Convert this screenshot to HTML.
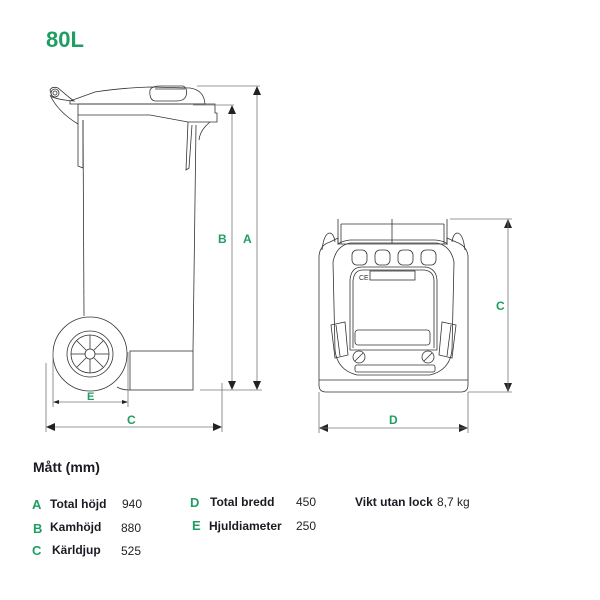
<!DOCTYPE html>
<html><head><meta charset="utf-8"><style>
body{margin:0;background:#fff;width:600px;height:600px;overflow:hidden;position:relative;font-family:"Liberation Sans",sans-serif}
.t{position:absolute;white-space:nowrap}
.g{color:#1f9e62;font-weight:bold}
.b{color:#1a1a22;font-weight:bold;font-size:12px}
.n{color:#222;font-size:12px}
</style></head><body>
<svg width="600" height="600" style="position:absolute;left:0;top:0" fill="none" stroke="#333" stroke-width="0.8">
<!-- LEFT BIN -->
<circle cx="55" cy="93" r="4"/><circle cx="55" cy="93" r="2"/>
<path d="M50 90 Q52 86 58 88 L70 98 L74 101 Q60 100 52 97 Z"/>
<path d="M50 95 Q58 112 78 124"/>
<path d="M70 101 L95 92 Q120 88 150 87 L190 88 Q204 90 205 104 L70 104 Z"/>
<path d="M150 90 Q152 86 160 86 L183 86 Q188 88 186 96 Q184 101 176 101 L155 101 Q149 100 150 90 Z"/>
<line x1="155" y1="89" x2="185" y2="89"/>
<path d="M78 104 L215 104 L215 113 L217 113 L217 122 L210 122 Q200 130 199 140 M78 104 L78 115 L150 115 L188 122 L210 122"/>
<path d="M78 115 L78 166 L83 168 L83 120"/>
<path d="M188 122 L186 170 L189 168 L192 125"/>
<path d="M83 120 L84 316"/>
<path d="M196 125 L193 351"/>
<rect x="130" y="351" width="63" height="39"/>
<path d="M117 387 Q122 390 130 390"/>
<circle cx="90" cy="354" r="37" fill="#fff"/>
<circle cx="90" cy="354" r="23"/><circle cx="90" cy="354" r="19"/>
<circle cx="90" cy="354" r="5"/>
<g>
<line x1="90" y1="349" x2="90" y2="335"/><line x1="90" y1="359" x2="90" y2="373"/>
<line x1="85" y1="354" x2="71" y2="354"/><line x1="95" y1="354" x2="109" y2="354"/>
<line x1="86" y1="350" x2="77" y2="341"/><line x1="94" y1="350" x2="103" y2="341"/>
<line x1="86" y1="358" x2="77" y2="367"/><line x1="94" y1="358" x2="103" y2="367"/>
</g>
<!-- dims left -->
<g stroke="#777">
<line x1="197" y1="86" x2="260" y2="86"/><line x1="200" y1="390" x2="262" y2="390"/>
<line x1="193" y1="105" x2="234" y2="105"/>
<line x1="257" y1="88" x2="257" y2="388"/><line x1="232" y1="107" x2="232" y2="388"/>
<line x1="46" y1="363" x2="46" y2="432"/><line x1="222" y1="383" x2="222" y2="432"/>
<line x1="48" y1="427" x2="220" y2="427"/>
<line x1="53" y1="352" x2="53" y2="407"/><line x1="128" y1="352" x2="128" y2="407"/>
<line x1="55" y1="402" x2="126" y2="402"/>
</g>
<g fill="#222" stroke="none">
<polygon points="257,86 253,95 261,95"/><polygon points="257,390 253,381 261,381"/>
<polygon points="232,105 228,114 236,114"/><polygon points="232,390 228,381 236,381"/>
<polygon points="46,427 55,423 55,431"/><polygon points="222,427 213,423 213,431"/>
<polygon points="53,402 59,400 59,404"/><polygon points="128,402 122,400 122,404"/>
<polygon points="319,428 328,424 328,432"/><polygon points="468,428 459,424 459,432"/>
<polygon points="508,219 504,228 512,228"/><polygon points="508,392 504,383 512,383"/>
</g>
<!-- RIGHT BIN -->
<path d="M341 224 L341 244 M444 224 L444 244 M338 219 L338 244 L447 244 L447 219 M341 224 L444 224 M392 219 L392 243"/>
<path d="M319 385 L319 256 Q320 245 330 242 L338 238 L338 244 Q342 241 350 240 L435 240 Q445 241 447 244 L447 238 L456 242 Q467 246 468 256 L468 385 Q468 392 461 392 L326 392 Q319 392 319 385 Z"/>
<line x1="319" y1="380" x2="468" y2="380"/>
<path d="M322 250 Q324 233 330 233 Q334 234 335 242 M465 250 Q463 233 457 233 Q453 234 452 242"/>
<path d="M333 262 Q336 246 350 243 L437 243 Q451 246 454 262 L452 350 Q450 370 430 375 L357 375 Q337 370 335 350 Z"/>
<rect x="352" y="250" width="15" height="15" rx="5"/><rect x="375" y="250" width="15" height="15" rx="5"/>
<rect x="398" y="250" width="15" height="15" rx="5"/><rect x="421" y="250" width="15" height="15" rx="5"/>
<path d="M350 350 L350 280 Q351 267 362 267 L425 267 Q436 268 437 280 L437 350 Z"/>
<path d="M353 348 L353 281 Q354 270 363 270 L424 270 Q434 271 434 281 L434 348"/>
<rect x="370" y="271" width="45" height="9"/>
<text x="359" y="280" font-size="7" fill="#333" stroke="none" font-family="Liberation Sans">CE</text>
<rect x="355" y="330" width="75" height="15" rx="3"/>
<path d="M331 325 L345 322 L348 355 L335 358 Z M336 325 L340 356"/>
<path d="M456 325 L442 322 L439 355 L452 358 Z M451 325 L447 356"/>
<circle cx="359" cy="357" r="6"/><circle cx="428" cy="357" r="6"/>
<line x1="355" y1="361" x2="363" y2="353"/><line x1="424" y1="361" x2="432" y2="353"/>
<rect x="355" y="365" width="80" height="7" rx="2"/>
<g stroke="#777">
<line x1="450" y1="219" x2="512" y2="219"/><line x1="468" y1="392" x2="512" y2="392"/>
<line x1="508" y1="221" x2="508" y2="390"/>
<line x1="319" y1="392" x2="319" y2="433"/><line x1="468" y1="392" x2="468" y2="433"/>
<line x1="321" y1="428" x2="466" y2="428"/>
</g>
</svg>
<div class="t g" style="left:46px;top:27px;font-size:22px">80L</div>
<div class="t g" style="left:218px;top:232px;font-size:12px">B</div>
<div class="t g" style="left:243px;top:232px;font-size:12px">A</div>
<div class="t g" style="left:87px;top:391px;font-size:11px">E</div>
<div class="t g" style="left:127px;top:413px;font-size:12px">C</div>
<div class="t g" style="left:389px;top:413px;font-size:12px">D</div>
<div class="t g" style="left:496px;top:299px;font-size:12px">C</div>
<div class="t" style="left:33px;top:459px;font-size:14px;font-weight:bold;color:#1a1a22">Mått (mm)</div>
<div class="t g" style="left:32px;top:497px;font-size:13px">A</div>
<div class="t b" style="left:50px;top:497px">Total höjd</div>
<div class="t n" style="left:122px;top:497px">940</div>
<div class="t g" style="left:33px;top:521px;font-size:13px">B</div>
<div class="t b" style="left:50px;top:520px">Kamhöjd</div>
<div class="t n" style="left:121px;top:521px">880</div>
<div class="t g" style="left:32px;top:543px;font-size:13px">C</div>
<div class="t b" style="left:52px;top:543px">Kärldjup</div>
<div class="t n" style="left:121px;top:544px">525</div>
<div class="t g" style="left:190px;top:495px;font-size:13px">D</div>
<div class="t b" style="left:210px;top:495px">Total bredd</div>
<div class="t n" style="left:296px;top:495px">450</div>
<div class="t g" style="left:192px;top:518px;font-size:13px">E</div>
<div class="t b" style="left:209px;top:519px">Hjuldiameter</div>
<div class="t n" style="left:296px;top:519px">250</div>
<div class="t b" style="left:355px;top:495px">Vikt utan lock</div>
<div class="t n" style="left:437px;top:495px">8,7 kg</div>
</body></html>
